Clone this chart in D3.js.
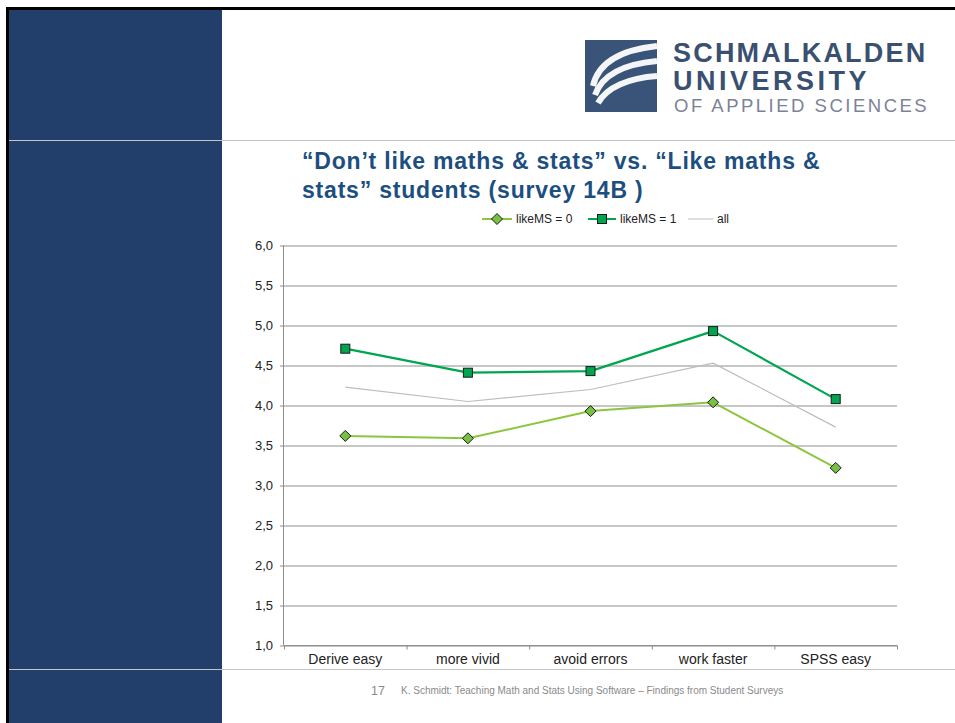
<!DOCTYPE html>
<html>
<head>
<meta charset="utf-8">
<script src="https://cdn.jsdelivr.net/npm/d3@7"></script>
<style>
  body { margin: 0; background: #fff; }
  svg text { font-family: "Liberation Sans", Arial, sans-serif; }
</style>
</head>
<body>
<div id="slide"></div>
<script>
// survey 14B, mean agreement per item
var categories = ["Derive easy", "more vivid", "avoid errors", "work faster", "SPSS easy"]
var likeMS0 = [3.62, 3.59, 3.93, 4.04, 3.22]
var likeMS1 = [4.71, 4.41, 4.43, 4.93, 4.08]
var allStudents = [4.23, 4.05, 4.20, 4.53, 3.73]
var yTicks = [1.0, 1.5, 2.0, 2.5, 3.0, 3.5, 4.0, 4.5, 5.0, 5.5, 6.0]

var series = [
    { name: "likeMS = 0", values: likeMS0, color: "#8cc63f", marker: "diamond", width: 2, fill: "#78c043" },
    { name: "likeMS = 1", values: likeMS1, color: "#00a550", marker: "square", width: 2.2, fill: "#00a550" },
    { name: "all", values: allStudents, color: "#bdbdbd", marker: null, width: 1.2 }
]

var svg = d3.select("#slide")
    .append("svg")
    .attr("width", 955)
    .attr("height", 723)

// slide frame
svg.append("rect").attr("x", 9).attr("y", 10).attr("width", 213).attr("height", 713).attr("fill", "#213f6a")
svg.append("rect").attr("x", 6).attr("y", 7).attr("width", 949).attr("height", 3).attr("fill", "#000")
svg.append("rect").attr("x", 6).attr("y", 7).attr("width", 3).attr("height", 716).attr("fill", "#000")
svg.append("line").attr("x1", 9).attr("x2", 955).attr("y1", 140.5).attr("y2", 140.5).attr("stroke", "#c4c4c4").attr("stroke-width", 1.2)
svg.append("line").attr("x1", 9).attr("x2", 955).attr("y1", 669.5).attr("y2", 669.5).attr("stroke", "#c4c4c4").attr("stroke-width", 1.2)

// logo
var logo = svg.append("g")
logo.append("rect").attr("x", 585).attr("y", 40).attr("width", 72).attr("height", 72).attr("fill", "#3a5479")
var stripes = [
    "M593,86 C598,63 620,50 657,46",
    "M595,95 C602,75 624,64 657,61",
    "M598,103 C607,87 629,78 657,76"
]
logo.selectAll("path.stripe")
    .data(stripes)
    .enter()
    .append("path")
    .attr("class", "stripe")
    .attr("d", d => d)
    .attr("fill", "none")
    .attr("stroke", "#f4f5f7")
    .attr("stroke-width", 6)
logo.append("text").text("SCHMALKALDEN")
    .attr("x", 673).attr("y", 62)
    .attr("font-size", 27).attr("font-weight", 700)
    .attr("letter-spacing", 2.2)
    .attr("fill", "#3a5070")
logo.append("text").text("UNIVERSITY")
    .attr("x", 673).attr("y", 90)
    .attr("font-size", 27).attr("font-weight", 700)
    .attr("letter-spacing", 3.5)
    .attr("fill", "#3a5070")
logo.append("text").text("OF APPLIED SCIENCES")
    .attr("x", 674).attr("y", 112)
    .attr("font-size", 18.5)
    .attr("letter-spacing", 2.5)
    .attr("fill", "#7c8397")

// title
var title = svg.append("text")
    .attr("font-size", 23)
    .attr("font-weight", 700)
    .attr("letter-spacing", 0.8)
    .attr("fill", "#1c4f80")
title.append("tspan").attr("x", 302).attr("y", 169).text("\u201cDon\u2019t like maths & stats\u201d vs. \u201cLike maths &")
title.append("tspan").attr("x", 302).attr("y", 198).text("stats\u201d students (survey 14B )")

// chart
var x = d3.scaleBand()
    .domain(categories)
    .range([284, 897])

var y = d3.scaleLinear()
    .domain([1, 6])
    .range([645.5, 245.5])

var fmt = v => d3.format(".1f")(v).replace(".", ",")

var grid = svg.append("g")
    .attr("transform", "translate(284,0)")
    .call(d3.axisLeft(y).tickValues(yTicks).tickSize(-613).tickFormat(""))
grid.select(".domain").remove()
grid.selectAll("line").attr("stroke", "#8e8e8e").attr("stroke-width", 1)

var yAxis = svg.append("g")
    .attr("transform", "translate(284,0)")
    .call(d3.axisLeft(y).tickValues(yTicks).tickSize(4).tickPadding(7).tickFormat(fmt))
yAxis.select(".domain").attr("stroke", "#8e8e8e").attr("d", "M-0.5," + y(6) + "V" + y(1))
yAxis.selectAll("line").attr("stroke", "#8e8e8e")
yAxis.selectAll("text").attr("font-size", 13).attr("fill", "#222").attr("font-family", "Liberation Sans, Arial, sans-serif")

var xAxis = svg.append("g")
    .attr("transform", "translate(0," + y(1) + ")")
    .call(d3.axisBottom(x).tickSize(0).tickPadding(9))
xAxis.select(".domain").attr("stroke", "#8e8e8e").attr("d", "M284,0H897")
xAxis.selectAll("text").attr("font-size", 14).attr("fill", "#222").attr("font-family", "Liberation Sans, Arial, sans-serif")

var bounds = categories.map(c => x(c)).concat([x.range()[1]])
svg.append("g")
    .selectAll("line")
    .data(bounds)
    .enter()
    .append("line")
    .attr("x1", d => d + 0.5).attr("x2", d => d + 0.5)
    .attr("y1", y(1)).attr("y2", y(1) + 4)
    .attr("stroke", "#8e8e8e")

var line = d3.line()
    .x((d, i) => x(categories[i]) + x.bandwidth() / 2)
    .y(d => y(d))

// draw "all" first so it sits below
var order = [series[2], series[0], series[1]]
order.forEach(function (s) {
    svg.append("path")
        .datum(s.values)
        .attr("d", line)
        .attr("fill", "none")
        .attr("stroke", s.color)
        .attr("stroke-width", s.width)
        .attr("stroke-linejoin", "round")
})

function marker(g, type, cx, cy, fill) {
    if (type == "diamond") {
        g.append("path")
            .attr("d", "M" + cx + "," + (cy - 5.5) + "L" + (cx + 5.5) + "," + cy + "L" + cx + "," + (cy + 5.5) + "L" + (cx - 5.5) + "," + cy + "Z")
            .attr("fill", fill).attr("stroke", "#1a1a1a").attr("stroke-width", 1)
    } else if (type == "square") {
        g.append("rect")
            .attr("x", cx - 4.5).attr("y", cy - 4.5).attr("width", 9).attr("height", 9)
            .attr("fill", fill).attr("stroke", "#1a1a1a").attr("stroke-width", 1)
    }
}

var markers = svg.append("g")
series.forEach(function (s) {
    if (!s.marker) return
    s.values.forEach(function (v, i) {
        marker(markers, s.marker, x(categories[i]) + x.bandwidth() / 2, y(v), s.fill)
    })
})

// legend
var legendX = [482, 588, 688]
var legendW = [30, 28, 25]
var legend = svg.append("g")
series.forEach(function (s, i) {
    var lx = legendX[i], ly = 219
    legend.append("line")
        .attr("x1", lx).attr("x2", lx + legendW[i])
        .attr("y1", ly).attr("y2", ly)
        .attr("stroke", s.color)
        .attr("stroke-width", s.marker ? 2 : 1)
    if (s.marker) marker(legend, s.marker, lx + legendW[i] / 2, ly, s.fill)
    legend.append("text")
        .text(s.name)
        .attr("x", lx + legendW[i] + 4)
        .attr("y", ly + 4)
        .attr("font-size", 12)
        .attr("fill", "#222")
})

// footer
svg.append("text").text("17")
    .attr("x", 371).attr("y", 695)
    .attr("font-size", 12.5)
    .attr("fill", "#8a8a8a")
svg.append("text").text("K. Schmidt:  Teaching Math and Stats Using Software \u2013 Findings from Student Surveys")
    .attr("x", 401).attr("y", 694)
    .attr("font-size", 10)
    .attr("fill", "#8a8a8a")
</script>
</body>
</html>
